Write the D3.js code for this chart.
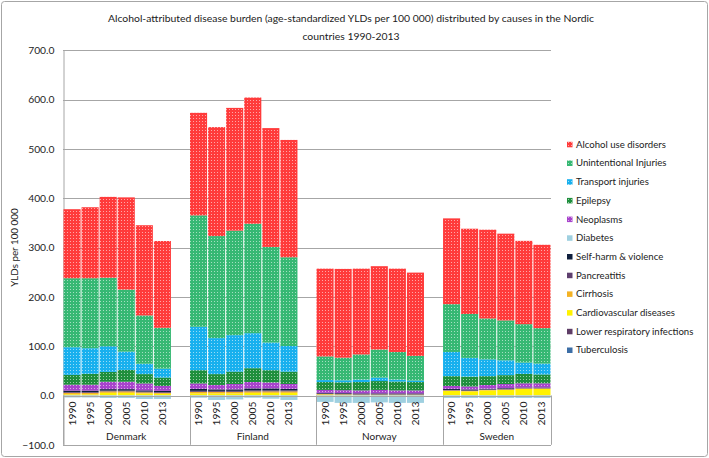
<!DOCTYPE html>
<html><head><meta charset="utf-8">
<script src="https://cdn.jsdelivr.net/npm/d3@7"></script>
<style>
html,body{margin:0;padding:0;background:#fff;}
svg{display:block;font-family:Lato,"Open Sans",sans-serif;}
</style></head>
<body>
<svg id="chart" width="709" height="458"></svg>
<script>
const countries = ["Denmark","Finland","Norway","Sweden"];
const years = ["1990","1995","2000","2005","2010","2013"];
const yTicks = [-100,0,100,200,300,400,500,600,700];
const legendOrder = ["Alcohol use disorders","Unintentional Injuries","Transport injuries","Epilepsy","Neoplasms","Diabetes","Self-harm & violence","Pancreatitis","Cirrhosis","Cardiovascular diseases","Lower respiratory infections","Tuberculosis"];
const seriesColors = ["#ff3b3b","#36b873","#18b0ee","#1f8f3d","#a844cc","#9fd0e0","#0f1f3d","#5e3f6e","#f4b224","#fff200","#5e3d66","#3c6ea6"];
const patterned = [true,true,true,true,true,false,false,false,false,false,false,false];

// values: Denmark x6, Finland x6, Norway x6, Sweden x6 (years 1990..2013)
const tuberculosis   = [0.1,0.1,0.1,0.1,0.1,0.1, 0.1,0.1,0.1,0.1,0.1,0.1, 0.1,0.1,0.1,0.1,0.1,0.1, 0.1,0.1,0.1,0.1,0.1,0.1];
const lowerResp      = [0.3,0.3,0.3,0.3,0.3,0.3, 0.3,0.3,0.3,0.3,0.3,0.3, 0.2,0.2,0.2,0.2,0.2,0.2, 0.2,0.2,0.2,0.2,0.2,0.2];
const cardiovascular = [2,2,5,5,4,3, 4,4,4,5,5,5, 1.5,1,0.5,0.5,0.5,0.5, 9,8,10,11,13,13];
const cirrhosis      = [3,3,3,3,2,2, 3,3,3,3,3,3, 1,1,1,1,1,1, 1,1,1,1,1,1];
const pancreatitis   = [1.5,1.5,1.5,1.5,1.5,1.5, 2,2,2,2,2,2, 1,1,1,1,1,1, 1,1,1,1,1,1];
const selfHarm       = [3,3,3,3,2.5,2.5, 4,3,3,4,4,3, 1.5,1.5,1.5,1.5,1.5,1.5, 2,2,1.5,1.5,1,1];
const diabetes       = [-4,-4,-5,-5,-7,-7, -4.5,-9,-8,-4.5,-6.5,-9, -13,-15,-15,-14,-15,-15, -5,-5,-5,-5,-5,-5];
const neoplasms      = [12,12,15,15,14,10, 11,9,11,13,12,10, 6,6,6,7,6,6, 6,6,7.5,8.5,8.4,8.4];
const epilepsy       = [20,22,20,24,19,17, 27,22,25,28,25,25, 16,16,17,18,18,17, 20,20,18,18,19,18];
const transport      = [56,52,52,37,21,18, 88,73,74,71,56,52, 4,4,5,7,4,3, 49,38,34,30,23,22];
const unintentional  = [140,142,139,126,98,83, 226,207,212,222,194,180, 48,46,51,57,56,50, 97,89,83,81,78,72];
const alcohol        = [140,144,164,187,183,176, 208,221,249,256,241,238, 178,180,174,169,169,169, 174,173,180,176,169,169];

const seriesValues = {
  "Alcohol use disorders": alcohol,
  "Unintentional Injuries": unintentional,
  "Transport injuries": transport,
  "Epilepsy": epilepsy,
  "Neoplasms": neoplasms,
  "Diabetes": diabetes,
  "Self-harm & violence": selfHarm,
  "Pancreatitis": pancreatitis,
  "Cirrhosis": cirrhosis,
  "Cardiovascular diseases": cardiovascular,
  "Lower respiratory infections": lowerResp,
  "Tuberculosis": tuberculosis
};
const stackOrder = legendOrder.slice().reverse(); // bottom to top

const rows = [];
countries.forEach((c,ci)=>{
  years.forEach((yr,yi)=>{
    const r = {key:c+"|"+yr, country:c, year:yr};
    legendOrder.forEach(s=>{ r[s] = seriesValues[s][ci*6+yi]; });
    rows.push(r);
  });
});
const slots = [];
countries.forEach((c,ci)=>{
  years.forEach(yr=>slots.push(c+"|"+yr));
  if (ci < countries.length-1) slots.push(c+"|blank");
});

const svg = d3.select("#chart");
const mLeft = 63, mRight = 551, mTop = 50.4, mBottom = 444.8;
const x = d3.scaleBand().domain(slots).range([mLeft,mRight]).padding(0);
const y = d3.scaleLinear().domain([-100,700]).range([mBottom,mTop]);

svg.append("rect").attr("x",1.5).attr("y",1.5).attr("width",706).attr("height",455)
  .attr("rx",3).attr("fill","#fff").attr("stroke","#a6a6a6").attr("stroke-width",1);

const defs = svg.append("defs");
legendOrder.forEach((s,i)=>{
  if(!patterned[i]) return;
  const p = defs.append("pattern").attr("id","pat"+i).attr("patternUnits","userSpaceOnUse")
    .attr("width",3).attr("height",3);
  p.append("rect").attr("width",3).attr("height",3).attr("fill",seriesColors[i]);
  p.append("rect").attr("x",1).attr("y",1).attr("width",1).attr("height",1).attr("fill","#fff").attr("fill-opacity",0.55);
});
const fillOf = i => patterned[i] ? "url(#pat"+i+")" : seriesColors[i];

const title = svg.append("text").attr("text-anchor","middle").attr("font-size",10.4).attr("fill","#222");
title.append("tspan").attr("x",351).attr("y",22).text("Alcohol-attributed disease burden (age-standardized YLDs per 100 000) distributed by causes in the Nordic");
title.append("tspan").attr("x",351).attr("y",40).text("countries 1990-2013");

svg.append("g").selectAll("line").data(yTicks).join("line")
  .attr("x1",mLeft).attr("x2",mRight)
  .attr("y1",d=>Math.round(y(d))+0.5).attr("y2",d=>Math.round(y(d))+0.5)
  .attr("stroke","#a6a6a6").attr("stroke-width",1);

const yAxis = d3.axisLeft(y).tickValues(yTicks).tickFormat(d3.format(".1f")).tickSize(0).tickPadding(9);
const ya = svg.append("g").attr("transform",`translate(${mLeft+0.5},0)`).call(yAxis);
ya.select(".domain").attr("stroke","#a6a6a6");
ya.selectAll("text").attr("font-size",10.3).attr("fill","#222").attr("font-family","Lato,'Open Sans',sans-serif");

svg.append("text").attr("transform",`translate(18,${(mTop+mBottom)/2}) rotate(-90)`)
  .attr("text-anchor","middle").attr("font-size",9.8).attr("fill","#222").text("YLDs per 100 000");

const stack = d3.stack().keys(stackOrder).offset(d3.stackOffsetDiverging);
const stacked = stack(rows);
const barG = svg.append("g");
stacked.forEach(layer=>{
  const i = legendOrder.indexOf(layer.key);
  barG.append("g").selectAll("rect").data(layer).join("rect")
    .attr("x",d=>x(d.data.key)+0.5)
    .attr("width",x.bandwidth()-1)
    .attr("y",d=>y(Math.max(d[0],d[1])))
    .attr("height",d=>Math.abs(y(d[0])-y(d[1])))
    .attr("fill",fillOf(i));
});

svg.append("line").attr("x1",mLeft).attr("x2",mRight)
  .attr("y1",Math.round(y(0))+0.5).attr("y2",Math.round(y(0))+0.5).attr("stroke","#a6a6a6");

const yl = svg.append("g");
rows.forEach(r=>{
  const cx = x(r.key)+x.bandwidth()/2;
  yl.append("text").attr("transform",`translate(${cx+3.5},${y(0)+6}) rotate(-90)`)
    .attr("text-anchor","end").attr("font-size",10.3).attr("fill","#222").text(r.year);
});
const bounds = [mLeft];
countries.forEach((c,ci)=>{
  if(ci<countries.length-1) bounds.push(x(c+"|blank")+x.bandwidth());
  else bounds.push(mRight);
});
svg.append("g").selectAll("line").data(bounds).join("line")
  .attr("x1",d=>Math.round(d)+0.5).attr("x2",d=>Math.round(d)+0.5)
  .attr("y1",y(0)).attr("y2",mBottom).attr("stroke","#a6a6a6");
countries.forEach((c,ci)=>{
  svg.append("text").attr("x",(bounds[ci]+bounds[ci+1])/2).attr("y",440)
    .attr("text-anchor","middle").attr("font-size",10).attr("fill","#222").text(c);
});

const lg = svg.append("g");
legendOrder.forEach((s,i)=>{
  const ly = 144.3 + i*18.7;
  lg.append("rect").attr("x",567).attr("y",ly-2.5).attr("width",5.5).attr("height",5.5).attr("fill",fillOf(i));
  lg.append("text").attr("x",576).attr("y",ly+3.4).attr("font-size",9.6).attr("fill","#222").text(s);
});
</script>
</body></html>
